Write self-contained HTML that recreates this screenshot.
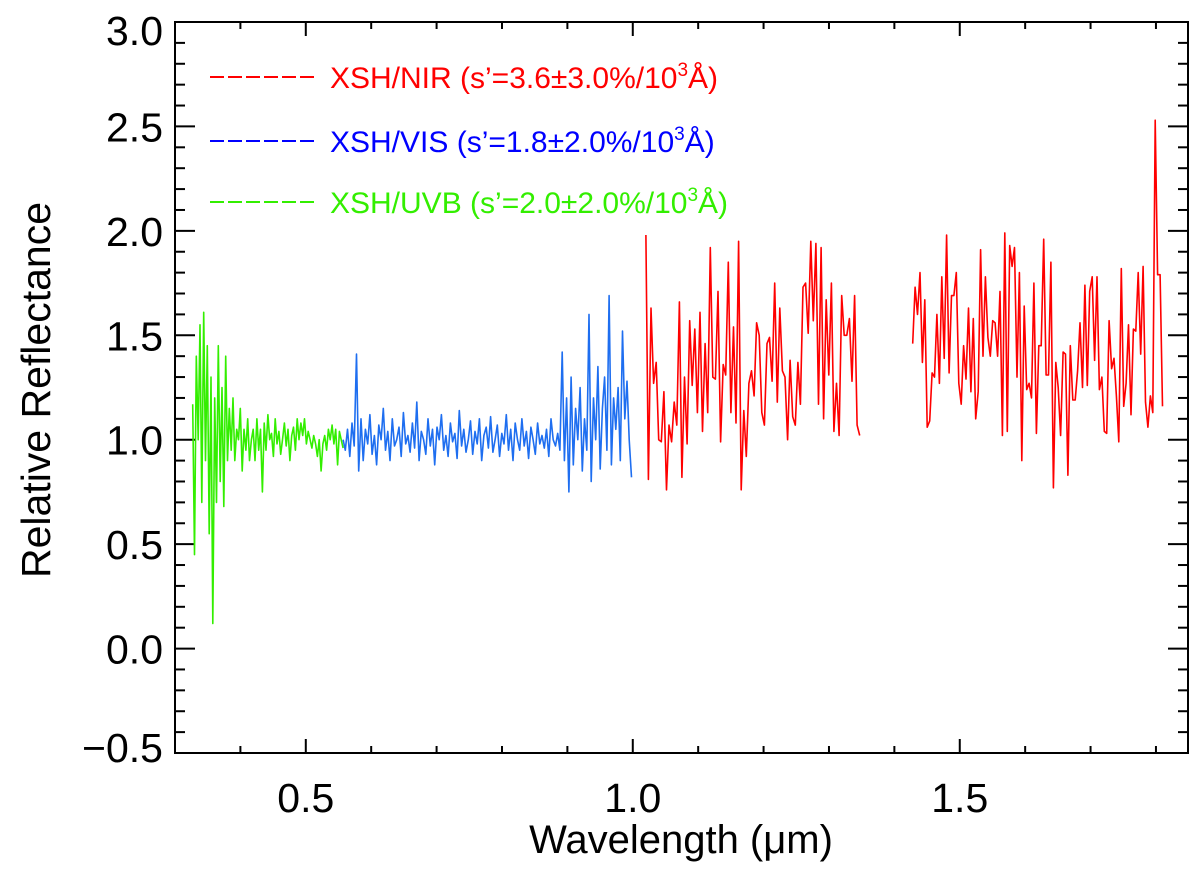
<!DOCTYPE html>
<html><head><meta charset="utf-8"><style>
html,body{margin:0;padding:0;background:#fff;}
svg text{font-family:"Liberation Sans",Arial,sans-serif;}
</style></head><body>
<svg id="chart" width="1200" height="873" xmlns="http://www.w3.org/2000/svg">
<g id="axes"></g>
<g id="series"></g>
<g id="legend">
  <line x1="210" y1="77" x2="318" y2="77" stroke="#ff0000" stroke-width="2" stroke-dasharray="14,4"/>
  <text x="330" y="88" font-size="30" fill="#ff0000">XSH/NIR (s’=3.6±3.0%/10<tspan dy="-12" font-size="19">3</tspan><tspan dy="12">Å)</tspan></text>
  <line x1="210" y1="141" x2="318" y2="141" stroke="#0000ff" stroke-width="2" stroke-dasharray="14,4"/>
  <text x="330" y="152" font-size="30" fill="#0000ff">XSH/VIS (s’=1.8±2.0%/10<tspan dy="-12" font-size="19">3</tspan><tspan dy="12">Å)</tspan></text>
  <line x1="210" y1="202" x2="318" y2="202" stroke="#33ee00" stroke-width="2" stroke-dasharray="14,4"/>
  <text x="330" y="213" font-size="30" fill="#33ee00">XSH/UVB (s’=2.0±2.0%/10<tspan dy="-12" font-size="19">3</tspan><tspan dy="12">Å)</tspan></text>
</g>
<text x="681" y="853" font-size="40" text-anchor="middle">Wavelength (μm)</text>
<text transform="translate(50,390) rotate(-90)" font-size="41" text-anchor="middle">Relative Reflectance</text>
</svg>
<script>
const yTicks = [-0.5, 0.0, 0.5, 1.0, 1.5, 2.0, 2.5, 3.0];
const yTickLabels = ["\u22120.5","0.0","0.5","1.0","1.5","2.0","2.5","3.0"];
const xTicks = [0.5, 1.0, 1.5];
const xTickLabels = ["0.5","1.0","1.5"];
const uvbRange = [0.327, 0.557];
const uvbValues = [1.17,0.45,1.4,1.0,1.55,0.7,1.61,0.9,1.45,0.55,1.3,0.12,1.2,0.7,1.45,0.8,1.25,0.68,1.4,0.9,1.15,0.95,1.2,0.9,1.05,1.0,1.15,0.85,1.05,0.95,1.1,0.9,1.0,1.05,0.9,1.1,0.95,1.05,0.75,1.08,0.95,1.12,1.0,1.03,0.92,1.1,0.98,1.04,0.93,1.0,1.08,0.97,1.05,0.9,1.02,1.06,0.95,1.1,1.0,1.08,1.02,1.1,0.98,1.04,1.0,0.96,1.02,0.98,0.92,1.0,0.85,0.98,1.02,0.95,1.05,1.0,1.07,0.98,1.05,0.88,1.04,1.0,0.96];
const visRange = [0.557, 0.998];
const visValues = [1.0,0.95,1.05,0.92,1.08,0.97,1.41,0.85,1.1,0.9,1.05,0.98,1.12,0.93,1.02,0.88,1.07,1.0,1.15,0.95,1.04,0.9,1.1,0.97,1.0,1.06,0.92,1.13,0.98,1.02,0.94,1.08,0.96,1.18,0.9,1.04,1.0,0.93,1.1,0.97,1.05,0.88,1.06,1.0,1.12,0.95,1.02,0.92,1.08,0.99,1.03,0.91,1.14,0.97,1.05,0.94,1.0,1.09,0.93,1.04,0.98,1.1,0.9,1.02,1.06,0.96,1.11,0.94,1.0,1.07,0.92,1.03,0.98,1.12,0.95,1.05,0.9,1.08,1.0,0.95,1.1,0.97,1.04,0.91,1.06,1.0,0.93,1.08,0.98,1.02,0.96,1.05,0.92,1.1,1.0,0.97,1.03,0.95,1.42,0.9,1.2,0.75,1.3,0.88,1.15,1.0,1.25,0.85,1.1,0.95,1.6,0.8,1.2,1.0,1.35,0.86,1.15,1.3,0.95,1.69,0.88,1.2,1.05,1.25,0.9,1.52,1.1,1.28,1.0,0.82];
const nir1Range = [1.02, 1.347];
const nir1Values = [1.98,0.81,1.63,1.27,1.37,1.0,0.99,1.23,0.76,1.07,0.99,1.18,1.07,1.66,0.82,1.30,0.98,1.57,1.26,1.53,1.13,1.61,1.04,1.46,1.13,1.92,1.30,1.29,1.71,0.99,1.36,1.31,1.85,1.13,1.54,1.08,1.95,0.76,1.14,0.92,1.27,1.33,1.21,1.56,1.50,1.13,1.07,1.46,1.49,1.28,1.75,1.18,1.63,1.33,1.30,1.0,1.38,1.11,1.07,1.37,1.17,1.73,1.75,1.51,1.95,1.57,1.94,1.17,1.92,1.10,1.67,1.31,1.75,1.04,1.27,1.02,1.69,1.50,1.50,1.58,1.28,1.69,1.07,1.02];
const nir2Range = [1.428, 1.81];
const nir2Values = [1.46,1.73,1.60,1.80,1.37,1.67,1.06,1.09,1.32,1.30,1.60,1.27,1.78,1.39,1.98,1.32,1.69,1.69,1.80,1.27,1.17,1.45,1.29,1.63,1.23,1.58,1.10,1.23,1.91,1.40,1.78,1.49,1.40,1.57,1.56,1.40,1.71,1.02,1.99,1.04,1.93,1.83,1.92,1.30,1.80,0.90,1.64,1.24,1.27,1.20,1.75,1.03,1.45,1.45,1.96,1.31,1.31,1.85,0.77,1.37,1.25,1.02,1.42,1.41,0.83,1.45,1.19,1.19,1.33,1.56,1.25,1.74,1.26,1.71,1.78,1.38,1.78,1.24,1.30,1.04,1.03,1.57,1.34,1.39,1.21,0.99,1.82,1.16,1.27,1.55,1.12,1.53,1.52,1.80,1.41,1.83,1.18,1.06,1.21,1.13,2.53,1.79,1.79,1.16];

const L=175,R=1188,T=22,B=753, X0=0.3,X1=1.849, Y0=-0.5,Y1=3.0;
const sx=v=>L+(v-X0)/(X1-X0)*(R-L);
const sy=v=>B-(v-Y0)/(Y1-Y0)*(B-T);
const NS="http://www.w3.org/2000/svg";
const axes=document.getElementById('axes');
function mk(tag,attrs,parent){const e=document.createElementNS(NS,tag);for(const k in attrs)e.setAttribute(k,attrs[k]);parent.appendChild(e);return e;}

const frame=mk('rect',{x:L,y:T,width:R-L,height:B-T,fill:'none',stroke:'#000','stroke-width':2},axes);



for(let i=-5;i<=30;i++){
  const v=i/10, y=sy(v), major=(i%5===0), len=major?20:10;
  const t1=mk('line',{x1:L,y1:y,x2:L+len,y2:y,stroke:'#000','stroke-width':2},axes);
  
  
  const t2=mk('line',{x1:R,y1:y,x2:R-len,y2:y,stroke:'#000','stroke-width':2},axes);
  
  
}
yTicks.forEach((v,i)=>{
  const t=mk('text',{x:163,y:sy(v)+15+(v===3.0?8:0)-(v===-0.5?6:0),'font-size':41,'text-anchor':'end'},axes);
  t.textContent=yTickLabels[i];
  
  
});
for(let i=4;i<=18;i++){
  const v=i/10, x=sx(v), major=(i%5===0), len=major?14:7;
  const t1=mk('line',{x1:x,y1:B,x2:x,y2:B-len,stroke:'#000','stroke-width':2},axes);
  
  
  const t2=mk('line',{x1:x,y1:T,x2:x,y2:T+len,stroke:'#000','stroke-width':2},axes);
  
  
}
xTicks.forEach((v,i)=>{
  const t=mk('text',{x:sx(v),y:812,'font-size':41,'text-anchor':'middle'},axes);
  t.textContent=xTickLabels[i];
  
  
});

const series=document.getElementById('series');
function draw(range,vals,color,name){
  const n=vals.length, pts=vals.map((v,i)=>{const w=range[0]+(range[1]-range[0])*i/(n-1);return sx(w).toFixed(1)+','+sy(v).toFixed(1);});
  const p=mk('polyline',{points:pts.join(' '),fill:'none',stroke:color,'stroke-width':1.6,'stroke-linejoin':'round'},series);
  
  
}
draw(uvbRange,uvbValues,'#33ee00','uvb-spectrum-line');
draw(visRange,visValues,'#1e6ef0','vis-spectrum-line');
draw(nir1Range,nir1Values,'#ff0000','nir-spectrum-line-1');
draw(nir2Range,nir2Values,'#ff0000','nir-spectrum-line-2');
</script>
</body></html>
